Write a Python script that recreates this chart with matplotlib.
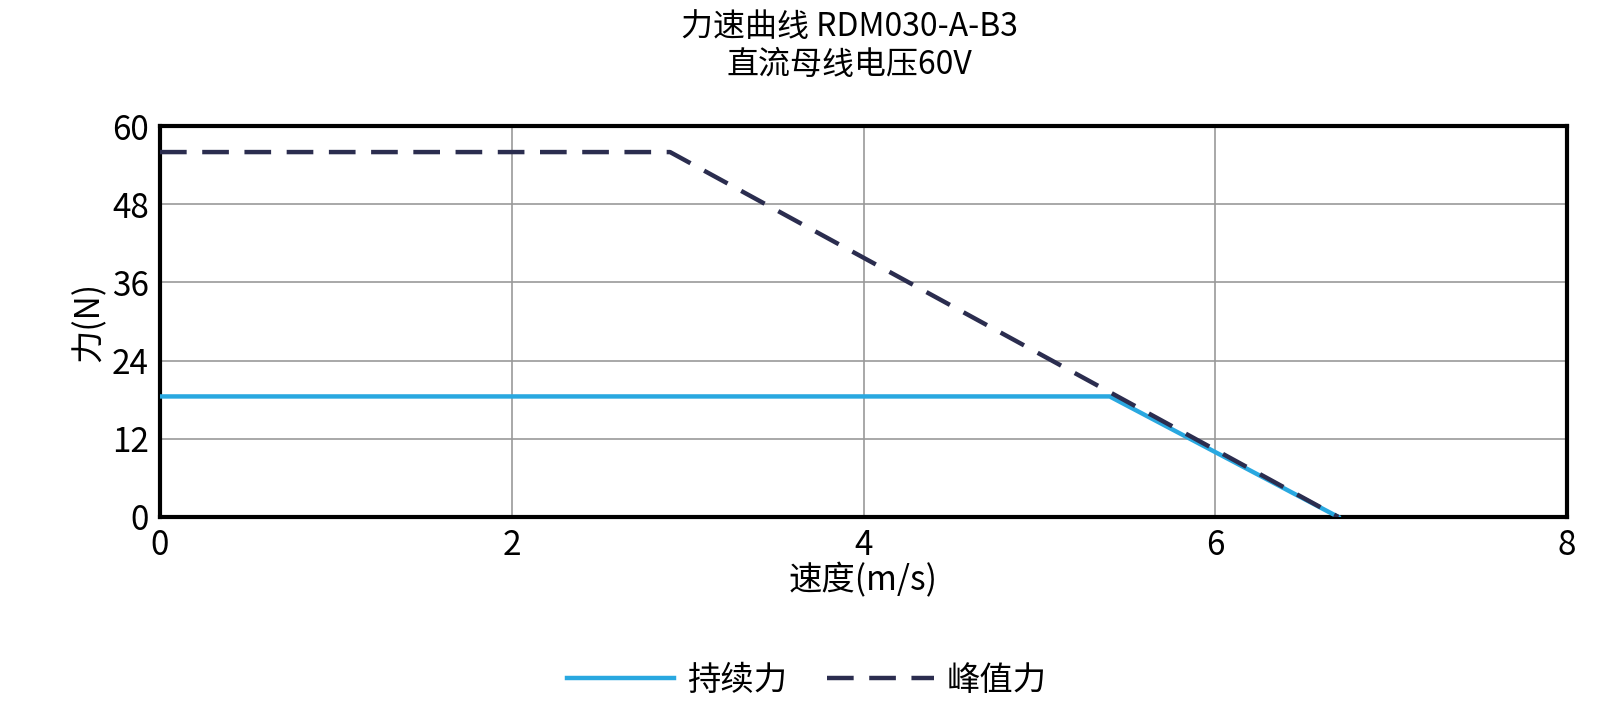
import matplotlib
matplotlib.use("Agg")
import matplotlib.pyplot as plt

plt.rcParams['font.family'] = ['Noto Sans CJK SC', 'DejaVu Sans']

cont_x = [0, 5.4, 6.7]
cont_y = [18.5, 18.5, 0]
peak_x = [0, 2.9, 6.7]
peak_y = [56, 56, 0]
xticks = [0, 2, 4, 6, 8]
yticks = [0, 12, 24, 36, 48, 60]

W, H = 1614, 720
fig = plt.figure(figsize=(16.14, 7.2), dpi=100)
l, r, t, b = 160, 1567, 126, 517
ax = fig.add_axes([l/W, 1-b/H, (r-l)/W, (b-t)/H])
ax.plot(cont_x, cont_y, color='#29a8e0', lw=3.2, label='持续力', zorder=3)
ax.plot(peak_x, peak_y, color='#2b2d4f', lw=3.2, dashes=(6, 3.5), label='峰值力', zorder=4)
ax.set_xlim(0, 8); ax.set_ylim(0, 60)
ax.set_xticks(xticks); ax.set_yticks(yticks)
ax.grid(True, color='#999999', lw=1.2)
for s in ax.spines.values():
    s.set_linewidth(3); s.set_color('black')
ax.tick_params(labelsize=24, length=0, pad=8)
ax.set_xlabel('速度(m/s)', fontsize=24, labelpad=0)
ax.set_ylabel('力(N)', fontsize=24, labelpad=4)
fig.text(0.526, 0.985, '力速曲线 RDM030-A-B3\n直流母线电压60V', ha='center', va='top', fontsize=23, linespacing=1.25)
fig.legend(loc='center', bbox_to_anchor=(0.5, 0.055), ncol=2, frameon=False, fontsize=24,
           handlelength=3.2, columnspacing=1.2, handletextpad=0.4)
fig.savefig('out.png', dpi=100)
